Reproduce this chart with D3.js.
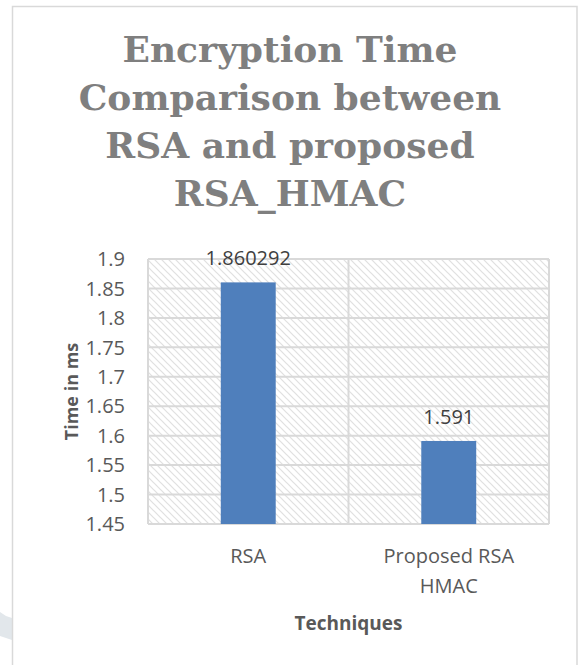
<!DOCTYPE html>
<html>
<head>
<meta charset="utf-8">
<script src="https://cdn.jsdelivr.net/npm/d3@7"></script>
<style>
  html, body { margin: 0; padding: 0; background: #ffffff; }
  svg { display: block; }
</style>
</head>
<body>
<div id="chart"></div>
<script>
// chart data
const titleLines = ['Encryption Time', 'Comparison between', 'RSA and proposed', 'RSA_HMAC'];
const categories = ['RSA', 'Proposed RSA HMAC'];
const categoryLines = [['RSA'], ['Proposed RSA', 'HMAC']];
const times = [1.860292, 1.591];
const valueLabels = ['1.860292', '1.591'];
const yTicks = [1.45, 1.5, 1.55, 1.6, 1.65, 1.7, 1.75, 1.8, 1.85, 1.9];
const yTickLabels = ['1.45', '1.5', '1.55', '1.6', '1.65', '1.7', '1.75', '1.8', '1.85', '1.9'];
const yTitle = 'Time in ms';
const xTitle = 'Techniques';

const W = 578, H = 665;
const plot = { left: 148, right: 549, top: 259, bottom: 524 };
const gapWidth = 2.65; // excel style gap width (265%)

const svg = d3.select('#chart')
    .append('svg')
    .attr('width', W)
    .attr('height', H);

const defs = svg.append('defs');
// wide downward diagonal hatch for the plot area
const pat = defs.append('pattern')
    .attr('id', 'hatch')
    .attr('patternUnits', 'userSpaceOnUse')
    .attr('width', 7)
    .attr('height', 7);
pat.append('rect').attr('width', 7).attr('height', 7).attr('fill', '#ffffff');
pat.append('path')
    .attr('d', 'M-2,-2 L9,9 M-2,5 L2,9 M5,-2 L9,2')
    .attr('stroke', '#e0e0e0')
    .attr('stroke-width', 1.2);

// faint decoration bottom-left
svg.append('path')
    .attr('d', 'M0,612 L6,616 L12,618 L12,640 L0,636 Z')
    .attr('fill', '#e2e7eb');

// outer chart frame (runs off right/bottom)
svg.append('rect')
    .attr('x', 12.5)
    .attr('y', 6.5)
    .attr('width', 564.5)
    .attr('height', 700)
    .attr('fill', 'none')
    .attr('stroke', '#d9d9d9')
    .attr('stroke-width', 1.5);

// title
svg.append('g')
    .selectAll('text')
    .data(titleLines)
    .join('text')
    .attr('x', 290)
    .attr('y', (d, i) => 62 + i * 48)
    .attr('text-anchor', 'middle')
    .style('font-family', '"DejaVu Serif", serif')
    .style('font-weight', 700)
    .style('font-size', '36px')
    .style('fill', '#7f7f7f')
    .text(d => d);

// scales
const y = d3.scaleLinear()
    .domain([d3.min(yTicks), d3.max(yTicks)])
    .range([plot.bottom, plot.top]);

const pad = gapWidth / (1 + gapWidth);
const x = d3.scaleBand()
    .domain(categories)
    .range([plot.left, plot.right])
    .paddingInner(pad)
    .paddingOuter(pad / 2);

const xCat = d3.scaleBand()
    .domain(categories)
    .range([plot.left, plot.right]);

// plot background
svg.append('rect')
    .attr('x', plot.left)
    .attr('y', plot.top)
    .attr('width', plot.right - plot.left)
    .attr('height', plot.bottom - plot.top)
    .attr('fill', 'url(#hatch)');

// horizontal gridlines
svg.append('g')
    .selectAll('line')
    .data(yTicks)
    .join('line')
    .attr('x1', plot.left)
    .attr('x2', plot.right)
    .attr('y1', d => y(d))
    .attr('y2', d => y(d))
    .attr('stroke', '#d9d9d9')
    .attr('stroke-width', 2);

// vertical category dividers
const dividers = [plot.left].concat(categories.map(c => xCat(c) + xCat.bandwidth()));
svg.append('g')
    .selectAll('line')
    .data(dividers)
    .join('line')
    .attr('x1', d => d)
    .attr('x2', d => d)
    .attr('y1', plot.top)
    .attr('y2', plot.bottom)
    .attr('stroke', '#d9d9d9')
    .attr('stroke-width', 2);

// bars
svg.append('g')
    .selectAll('rect')
    .data(times)
    .join('rect')
    .attr('x', (d, i) => x(categories[i]))
    .attr('y', d => y(d))
    .attr('width', x.bandwidth())
    .attr('height', d => y.range()[0] - y(d))
    .attr('fill', '#4f7fbc');

// value labels
svg.append('g')
    .selectAll('text')
    .data(times)
    .join('text')
    .attr('x', (d, i) => x(categories[i]) + x.bandwidth() / 2)
    .attr('y', d => y(d) - 17)
    .attr('text-anchor', 'middle')
    .style('font-family', '"Open Sans", sans-serif')
    .style('font-size', '20px')
    .style('fill', '#404040')
    .text((d, i) => valueLabels[i]);

// y tick labels
svg.append('g')
    .selectAll('text')
    .data(yTicks)
    .join('text')
    .attr('x', plot.left - 23)
    .attr('y', d => y(d))
    .attr('dy', '0.36em')
    .attr('text-anchor', 'end')
    .style('font-family', '"Open Sans", sans-serif')
    .style('font-size', '20px')
    .style('fill', '#595959')
    .text((d, i) => yTickLabels[i]);

// x category labels
const catG = svg.append('g');
categories.forEach((c, i) => {
    catG.append('text')
        .attr('x', xCat(c) + xCat.bandwidth() / 2)
        .attr('y', 563)
        .attr('text-anchor', 'middle')
        .style('font-family', '"Open Sans", sans-serif')
        .style('font-size', '20px')
        .style('fill', '#595959')
        .selectAll('tspan')
        .data(categoryLines[i])
        .join('tspan')
        .attr('x', xCat(c) + xCat.bandwidth() / 2)
        .attr('dy', (d, j) => j === 0 ? 0 : 30)
        .text(d => d);
});

// axis titles
svg.append('text')
    .attr('x', (plot.left + plot.right) / 2)
    .attr('y', 630)
    .attr('text-anchor', 'middle')
    .style('font-family', '"Open Sans", sans-serif')
    .style('font-weight', 700)
    .style('font-size', '19px')
    .style('fill', '#595959')
    .text(xTitle);

svg.append('text')
    .attr('transform', `translate(72,${(plot.top + plot.bottom) / 2}) rotate(-90)`)
    .attr('text-anchor', 'middle')
    .attr('dy', '0.35em')
    .style('font-family', '"Open Sans", sans-serif')
    .style('font-weight', 700)
    .style('font-size', '18px')
    .style('fill', '#595959')
    .text(yTitle);
</script>
</body>
</html>
